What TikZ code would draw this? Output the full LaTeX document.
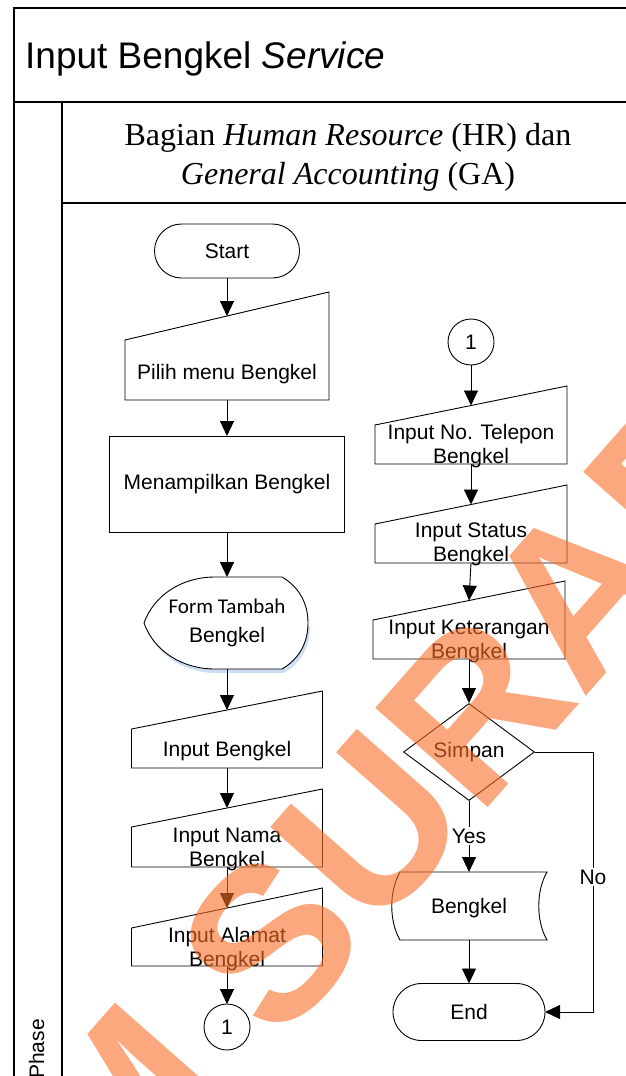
\documentclass[tikz,border=0pt]{standalone}
\usepackage{fontspec}
\setmainfont{Liberation Sans}
\newfontfamily\headserif{Liberation Serif}
\newfontfamily\calibrif{Carlito}
\usetikzlibrary{arrows.meta,shapes.geometric,shapes.misc,calc}
\definecolor{wmorange}{RGB}{250,110,40}
\definecolor{shadowblue}{RGB}{205,222,242}

% manual-input shape: name, centre x, top-right y, slant drop, bottom y, width, text y, text
\newcommand\maninput[8]{%
  \node[box, minimum width=#6pt, minimum height={(#5)-(#3)}] (#1) at (#2,{((#3)+(#5))/2}) {};
  \draw[shp] (#1.south west) -- (#1.south east) -- (#1.north east)
    -- ([yshift=-#4pt]#1.north west) -- cycle;
  \coordinate (#1-in) at ([yshift=-#4pt/2]#1.north);
  \node[lbl] (#1-t) at (#2,#7) {#8};}

\begin{document}
\begin{tikzpicture}[x=1pt,y=-1pt,
  shp/.style={draw=black, line width=0.9pt},
  lbl/.style={font=\fontsize{21}{24}\selectfont, align=center, inner sep=0pt},
  arr/.style={draw=black, line width=0.9pt, -{Triangle[length=15pt,width=14pt]}},
  frm/.style={draw=black, line width=1.6pt},
  box/.style={rectangle, inner sep=0pt, outer sep=0pt},
  term/.style={shp, rounded rectangle, inner sep=0pt, outer sep=0pt},
  conn/.style={shp, circle, minimum size=46pt, inner sep=0pt, outer sep=0pt},
  tag/.style={lbl, fill=white, inner sep=1.5pt},
  hdr/.style={anchor=base, inner sep=0pt, font=\headserif\fontsize{32}{37}\selectfont},
  wm/.style={text=wmorange, text opacity=0.6,
    font=\bfseries\fontsize{218}{218}\selectfont,
    inner sep=0pt, outer sep=0pt, rotate=48.6}]
\useasboundingbox (0,0) rectangle (626,1076);

% swimlane frame
\draw[frm] (14,1080) -- (14,8) -- (630,8);
\draw[frm] (14,102) -- (630,102);
\draw[frm] (62,102) -- (62,1080);
\draw[frm] (62,203) -- (630,203);

\node[anchor=base west, inner sep=0pt, font=\fontsize{37}{40}\selectfont] (title) at (25,68)
  {Input Bengkel \textit{Service}};
\node[hdr] (hdr1) at (348,145) {Bagian \textit{Human Resource} (HR) dan};
\node[hdr] (hdr2) at (348,184) {\textit{General Accounting} (GA)};
\node[lbl, rotate=90, anchor=base west] (phase) at (44,1079) {Phase};

% left column
\node[term, lbl, minimum width=145pt, minimum height=54pt] (start) at (227,251) {Start};
\maninput{pilih}{227}{292}{48}{400}{204}{374}{Pilih menu Bengkel}
\node[shp, box, lbl, minimum width=235pt, minimum height=96pt] (tampil) at (227,484) {Menampilkan Bengkel};

\node[box, minimum width=165pt, minimum height=92pt] (form) at (227,623) {};
\begin{scope}[shift={(227,623)}]
  \fill[shadowblue] (-81,4) .. controls (-71,32) and (-43,50) .. (-10,50) -- (57,50)
    .. controls (74,40) and (83,24) .. (83,4) -- (70,4) -- cycle;
  \draw[shp, fill=white] (-83,0) .. controls (-73,-28) and (-45,-46) .. (-12,-46) -- (55,-46)
    .. controls (72,-36) and (81,-20) .. (81,0) .. controls (81,20) and (72,36) .. (55,46)
    -- (-12,46) .. controls (-45,46) and (-73,28) .. (-83,0) -- cycle;
\end{scope}
\node[lbl, font=\fontsize{21}{29}\selectfont] (form-t) at (227,623) {{\calibrif Form Tambah}\\Bengkel};

\maninput{inb}{227}{691}{38}{768}{191}{751}{Input Bengkel}
\maninput{inn}{227}{789}{38}{867}{191}{849}{Input Nama\\Bengkel}
\maninput{ina}{227}{888}{40}{966}{191}{949}{Input Alamat\\Bengkel}
\node[conn, lbl] (c1l) at (227,1027) {1};

% right column
\node[conn, lbl] (c1r) at (471,342) {1};
\maninput{tel}{471}{386}{39}{464}{192}{446}{Input No. Telepon\\Bengkel}
\maninput{sts}{471}{485}{39}{563}{192}{544}{Input Status\\Bengkel}
\maninput{ket}{469}{581}{39}{659}{192}{641}{Input Keterangan\\Bengkel}
\node[shp, diamond, lbl, minimum width=131pt, minimum height=97pt] (simpan) at (469,752) {Simpan};

\node[box, minimum width=147pt, minimum height=68pt] (bkl) at (469,906) {};
\begin{scope}[shift={(469,906)}]
  \draw[shp] (-69,-34) -- (78,-34) .. controls (67,-15) and (67,15) .. (78,34)
    -- (-69,34) .. controls (-80,15) and (-80,-15) .. (-69,-34) -- cycle;
\end{scope}
\node[lbl] (bkl-t) at (469,908) {Bengkel};
\node[term, lbl, minimum width=152pt, minimum height=57pt] (end) at (469,1012) {End};
\coordinate (nox) at (593,752);

% connectors
\draw[arr] (start.south) -- (pilih-in);
\draw[arr] (pilih.south) -- (tampil.north);
\draw[arr] (tampil.south) -- (form.north);
\draw[arr] (form.south) -- (inb-in);
\draw[arr] (inb.south) -- (inn-in);
\draw[arr] (inn.south) -- (ina-in);
\draw[arr] (ina.south) -- (c1l.north);
\draw[arr] (c1r.south) -- (tel-in);
\draw[arr] (tel.south) -- (sts-in);
\draw[arr] (sts.south) -- (ket-in);
\draw[arr] (ket.south) -- (simpan.north);
\draw[arr] (simpan.south) -- (bkl.north);
\draw[arr] (bkl.south) -- (end.north);
\draw[arr] (simpan.east) -- (nox) |- (end.east);
\node[tag] (yes) at (469,836) {Yes};
\node[tag] (no) at (593,877) {No};

% watermark lettering
\node[wm, anchor=base west] (wmB) at (278,1046) {SURABAYA};
\node[wm, anchor=base east] (wmA) at (wmB.base west) {STIKOM\kern0.278em};
\end{tikzpicture}
\end{document}
